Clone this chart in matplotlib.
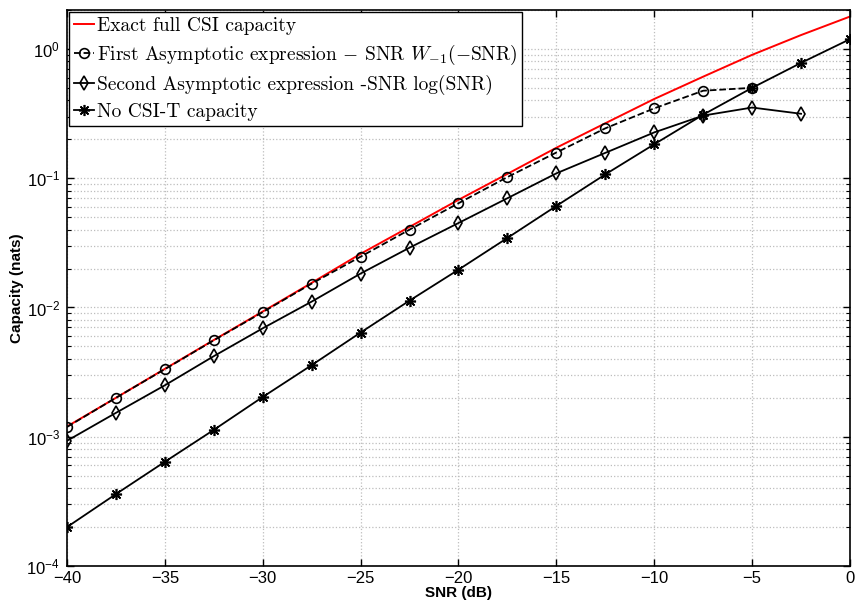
import numpy as np
import matplotlib
matplotlib.use("Agg")
import matplotlib.pyplot as plt
from matplotlib.font_manager import FontProperties

# SNR grid (dB)
snr_db = [-40, -37.5, -35, -32.5, -30, -27.5, -25, -22.5, -20, -17.5,
          -15, -12.5, -10, -7.5, -5, -2.5, 0]

# Exact full CSI capacity
exact = [1.2e-3, 2.0e-3, 3.35e-3, 5.6e-3, 9.3e-3, 0.0155, 0.026, 0.042, 0.068,
         0.108, 0.172, 0.266, 0.41, 0.61, 0.90, 1.28, 1.78]

# First asymptotic expression (up to -5 dB)
first_x = [-40, -37.5, -35, -32.5, -30, -27.5, -25, -22.5, -20, -17.5,
           -15, -12.5, -10, -7.5, -5]
first = [1.19e-3, 2.0e-3, 3.33e-3, 5.57e-3, 9.2e-3, 0.0153, 0.0247, 0.040, 0.064,
         0.102, 0.158, 0.243, 0.347, 0.475, 0.50]

# Second asymptotic expression (up to -2.5 dB)
second_x = [-40, -37.5, -35, -32.5, -30, -27.5, -25, -22.5, -20, -17.5,
            -15, -12.5, -10, -7.5, -5, -2.5]
second = [9.3e-4, 1.53e-3, 2.5e-3, 4.2e-3, 6.9e-3, 0.0111, 0.0183, 0.029, 0.045,
          0.070, 0.109, 0.157, 0.226, 0.305, 0.352, 0.315]

# No CSI-T capacity
nocsi = [2.0e-4, 3.6e-4, 6.4e-4, 1.13e-3, 2.03e-3, 3.58e-3, 6.4e-3, 0.0113, 0.0196,
         0.0345, 0.061, 0.107, 0.183, 0.31, 0.50, 0.78, 1.19]

plt.rcParams["font.family"] = ["Liberation Sans", "DejaVu Sans"]

fig = plt.figure(figsize=(8.56, 6.07), dpi=100)
ax = fig.add_axes([67 / 856, 41 / 607, 783 / 856, 556 / 607])

ax.plot(snr_db, exact, color="red", lw=1.4, label="Exact full CSI capacity")
ax.plot(first_x, first, "k--o", lw=1.3, ms=7, mfc="none", mew=1.2,
        label=r"First Asymptotic expression $-$ SNR $W_{-1}(-\mathrm{SNR})$")
ax.plot(second_x, second, "k-d", lw=1.3, ms=7.5, mfc="none", mew=1.2,
        label=r"Second Asymptotic expression -SNR log(SNR)")
ax.plot(snr_db, nocsi, "k-", marker=(8, 2, 0), lw=1.3, ms=8, mew=1.2,
        label="No CSI-T capacity")

ax.set_yscale("log")
ax.set_xlim(-40, 0)
ax.set_ylim(1e-4, 2)
ax.set_xticks(np.arange(-40, 1, 5))
ax.set_xticklabels([("\u2212%d" % -v) if v < 0 else "%d" % v for v in range(-40, 1, 5)])

ax.grid(True, which="major", axis="both", color="#bdbdbd", linestyle=":", lw=0.9)
ax.grid(True, which="minor", axis="y", color="#bdbdbd", linestyle=":", lw=0.9)
ax.tick_params(which="both", direction="in", top=True, right=True, labelsize=12)
ax.tick_params(axis="y", pad=5)
ax.tick_params(which="major", length=5, width=1)
ax.tick_params(which="minor", length=3, width=0.8)
for s in ax.spines.values():
    s.set_linewidth(1.2)

ax.set_xlabel("SNR (dB)", fontsize=11, fontweight="bold", labelpad=0)
ax.set_ylabel("Capacity (nats)", fontsize=11, fontweight="bold", labelpad=2)

prop = FontProperties(family="cmr10", size=14, math_fontfamily="cm")
leg = ax.legend(loc="upper left", prop=prop, fancybox=False, framealpha=1,
                edgecolor="black", numpoints=1, handlelength=1.0,
                handletextpad=0.15, borderaxespad=0.12, labelspacing=0.4,
                borderpad=0.25)
leg.get_frame().set_linewidth(1.0)

fig.savefig("out.png", dpi=100)
